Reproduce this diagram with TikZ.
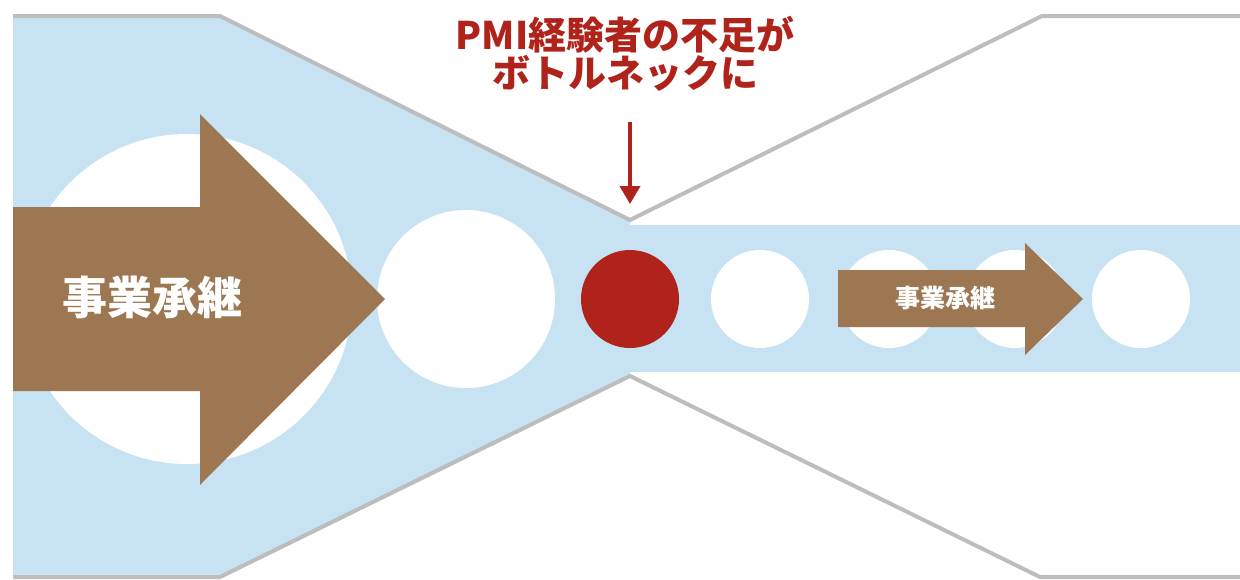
\documentclass[tikz,border=0pt]{standalone}
\usepackage{fontspec}
\newfontfamily\cjk{Noto Sans CJK JP}
\usetikzlibrary{arrows.meta}
\definecolor{funnelblue}{HTML}{C6E2F3}
\definecolor{arrowbrown}{HTML}{9C7752}
\definecolor{alertred}{HTML}{B0231A}
\definecolor{edgegray}{HTML}{BDBDBD}
\tikzset{
  whitedot/.style={circle, fill=white, inner sep=0pt, minimum size=#1},
  reddot/.style={circle, fill=alertred, inner sep=0pt, minimum size=#1},
  edgeline/.style={draw=edgegray, line width=4pt, line join=miter},
  flowarrow/.style={fill=arrowbrown},
  flowlabel/.style={text=white, font=\cjk\bfseries\fontsize{#1}{#1}\selectfont, inner sep=0pt},
  alertlabel/.style={text=alertred, align=center, font=\cjk\bfseries\fontsize{38}{38}\selectfont, inner sep=0pt},
  alertarrow/.style={draw=alertred, line width=4pt, -{Triangle[width=20pt,length=18pt]}}
}
\begin{document}
\begin{tikzpicture}[x=1pt,y=-1pt]
\useasboundingbox (0,0) rectangle (1240,579);
% blue funnel and band
\fill[funnelblue] (13,16) -- (220,16) -- (630,220) -- (630,376) -- (220,577) -- (13,577) -- cycle;
\fill[funnelblue] (628,225) rectangle (1240,372);
% circles
\node[whitedot=330pt] (c1) at (187,299) {};
\node[whitedot=178pt] (c2) at (466,299) {};
\node[reddot=98pt] (c3) at (630,299) {};
\node[whitedot=98pt] (c4) at (760,299) {};
\node[whitedot=98pt] (c5) at (889,299) {};
\node[whitedot=98pt] (c6) at (1015,299) {};
\node[whitedot=98pt] (c7) at (1141,299) {};
% big arrow
\fill[flowarrow] (13,207) -- (200,207) -- (200,114) -- (385,299) -- (200,485) -- (200,391) -- (13,391) -- cycle;
\node[flowlabel=45] (bigtext) at (152,297) {事業承継};
% small arrow
\fill[flowarrow] (838,270) -- (1025,270) -- (1025,243) -- (1083,299) -- (1025,355) -- (1025,327) -- (838,327) -- cycle;
\node[flowlabel=25] (smalltext) at (945,298) {事業承継};
% gray outline
\draw[edgeline] (13,16) -- (220,16) -- (630,220) -- (1042,16) -- (1240,16);
\draw[edgeline] (13,577) -- (220,577) -- (630,376) -- (1040,577) -- (1240,577);
% red label and arrow
\node[alertlabel] (alert) at (625,54) {PMI経験者の不足が\\ボトルネックに};
\coordinate (astart) at (630,122);
\coordinate (aend) at (630,204);
\draw[alertarrow] (astart) -- (aend);
\end{tikzpicture}
\end{document}
